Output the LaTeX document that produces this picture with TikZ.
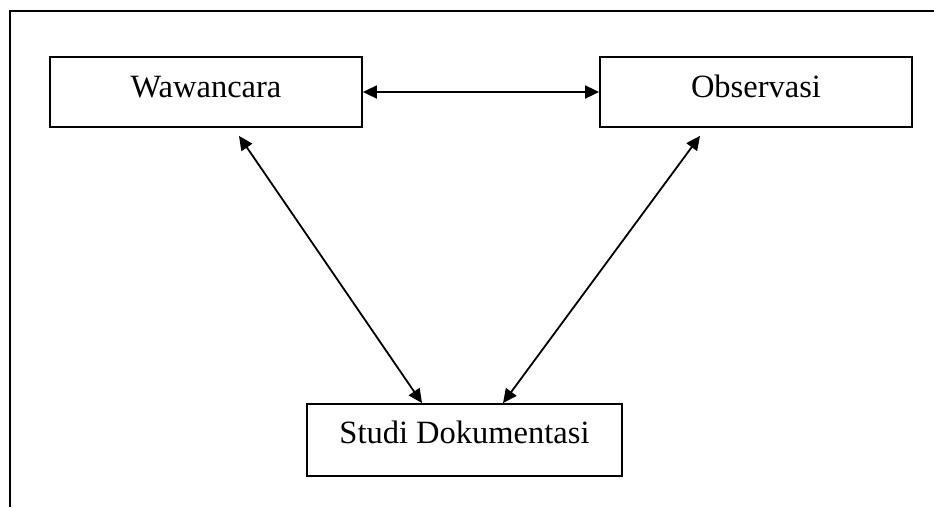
\documentclass[tikz,border=0pt]{standalone}
\usepackage{fontspec}
\setmainfont{Liberation Serif}
\usetikzlibrary{arrows.meta}
\tikzset{kotak/.style={draw,line width=1.8pt,inner sep=0pt,minimum width=312pt,text height=40pt,text depth=30pt,font=\fontsize{32.5}{38}\selectfont},
	panah/.style={{Triangle[length=14pt,width=13pt]}-{Triangle[length=14pt,width=13pt]},line width=1.8pt}}
\begin{document}
\begin{tikzpicture}[x=1pt,y=-1pt]
				\useasboundingbox(0,0)rectangle(934,507);
				\draw[line width=1.8pt](934,11)--(10,11)--(10,507);
				\node[kotak](waw)at(206,92){Wawancara};
				\node[kotak](obs)at(756,92){Observasi};
				\node[kotak,minimum width=315pt,text height=39pt,text depth=33pt](studi)at(464.5,440){Studi Dokumentasi};
				\draw[panah](waw.east)--(obs.west);
				\draw[panah]([xshift=33pt,yshift=-8pt]waw.south)--([xshift=-42.5pt]studi.north);
				\draw[panah]([xshift=-56pt,yshift=-8pt]obs.south)--([xshift=38.5pt]studi.north);
			\end{tikzpicture}
\end{document}
